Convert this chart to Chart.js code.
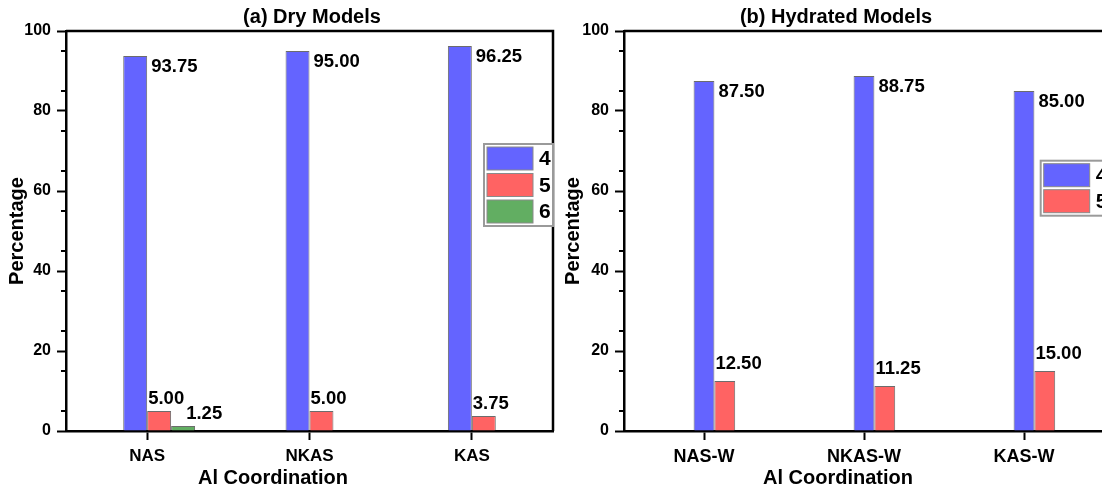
<!DOCTYPE html>
<html>
<head>
<meta charset="utf-8">
<script src="https://cdn.jsdelivr.net/npm/chart.js@4/dist/chart.umd.min.js"></script>
<style>
  html, body { margin: 0; padding: 0; background: #fff; overflow: hidden; width: 1102px; height: 493px; }
  canvas { position: absolute; top: 0; }
  #dry { left: 0; }
  #hyd { left: 560px; }
</style>
</head>
<body>
<canvas id="dry" width="560" height="493"></canvas>
<canvas id="hyd" width="560" height="493"></canvas>
<script>
// ---- data ----
const dryCategories = ['NAS', 'NKAS', 'KAS'];
const dryCoord4 = [93.75, 95.00, 96.25];
const dryCoord5 = [5.00, 5.00, 3.75];
const dryCoord6 = [1.25, 0, 0];

const hydCategories = ['NAS-W', 'NKAS-W', 'KAS-W'];
const hydCoord4 = [87.50, 88.75, 85.00];
const hydCoord5 = [12.50, 11.25, 15.00];

const seriesNames = ['4', '5', '6'];
const yTicks = [0, 20, 40, 60, 80, 100];

const dryTitle = '(a) Dry Models';
const hydTitle = '(b) Hydrated Models';
const xAxisTitle = 'Al Coordination';
const yAxisTitle = 'Percentage';

// ---- styles ----
const BLUE = '#6464FF', RED = '#FF6363', GREEN = '#62AE62';
const FONT = "'Liberation Sans', Arial, sans-serif";
const barBorder = 'rgba(45,45,45,0.7)';

// Draws the closed frame, minor y ticks, value labels, legend and titles.
const panelDecor = {
  id: 'panelDecor',
  afterDraw(chart, args, o) {
    const { ctx, chartArea: a } = chart;
    const y = chart.scales.y;
    ctx.save();
    ctx.strokeStyle = '#000';
    ctx.lineWidth = 2.5;
    ctx.beginPath();
    ctx.moveTo(a.left, a.top);
    ctx.lineTo(a.right, a.top);
    ctx.lineTo(a.right, a.bottom);
    ctx.stroke();

    // minor ticks every 5
    ctx.lineWidth = 2;
    for (let v = 5; v < 100; v += 10) {
      const py = y.getPixelForValue(v);
      ctx.beginPath();
      ctx.moveTo(a.left - 5, py);
      ctx.lineTo(a.left, py);
      ctx.stroke();
    }

    // value labels
    ctx.fillStyle = '#000';
    ctx.font = 'bold 18.5px ' + FONT;
    const lastRight = {};
    chart.data.datasets.forEach((ds, di) => {
      if (!ds.label) return;
      const meta = chart.getDatasetMeta(di);
      meta.data.forEach((bar, i) => {
        const v = ds.data[i];
        if (!v) return;
        const txt = v.toFixed(2);
        const w = ctx.measureText(txt).width;
        if (v >= 50) {
          ctx.textAlign = 'left';
          ctx.textBaseline = 'top';
          ctx.fillText(txt, bar.x + bar.width / 2 + 4, bar.y + 2);
        } else {
          let tx = bar.x - bar.width / 2 + 1;
          if (lastRight[i] !== undefined && tx < lastRight[i] + 2) tx = lastRight[i] + 2;
          ctx.textAlign = 'left';
          ctx.textBaseline = 'bottom';
          ctx.fillText(txt, tx, bar.y - o.labelGap);
          lastRight[i] = tx + w;
        }
      });
    });

    // legend
    const L = o.legend;
    const items = chart.data.datasets.filter(d => d.label);
    const boxH = L.pad * 2 + items.length * L.pitch - (L.pitch - L.sh);
    ctx.fillStyle = '#fff';
    ctx.fillRect(L.x, L.y, L.w, boxH);
    ctx.strokeStyle = '#9a9a9a';
    ctx.lineWidth = 2;
    ctx.strokeRect(L.x, L.y, L.w, boxH);
    items.forEach((d, k) => {
      const sy = L.y + L.pad + k * L.pitch;
      ctx.fillStyle = d.backgroundColor;
      ctx.fillRect(L.x + 3, sy, L.sw, L.sh);
      ctx.strokeStyle = '#8a8a8a';
      ctx.lineWidth = 1;
      ctx.strokeRect(L.x + 3, sy, L.sw, L.sh);
      ctx.fillStyle = '#000';
      ctx.font = 'bold 21px ' + FONT;
      ctx.textAlign = 'left';
      ctx.textBaseline = 'middle';
      ctx.fillText(d.label, L.x + 3 + L.sw + 6, sy + L.sh / 2 + 1);
    });

    // titles
    ctx.fillStyle = '#000';
    ctx.textAlign = 'center';
    ctx.textBaseline = 'middle';
    ctx.font = 'bold 20px ' + FONT;
    ctx.fillText(o.title.text, o.title.x, o.title.y);
    ctx.font = 'bold 20px ' + FONT;
    ctx.fillText(o.xTitle.text, o.xTitle.x, o.xTitle.y);
    ctx.restore();
  }
};

function makeOptions(axisLeft, padRight, yTitlePad, xTickSize, decor, catPct) {
  return {
    responsive: false,
    animation: false,
    layout: { padding: { top: 31, right: padRight, left: 0, bottom: 0 } },
    datasets: { bar: { categoryPercentage: catPct, barPercentage: 1, borderWidth: 1, borderColor: barBorder } },
    plugins: { legend: { display: false }, title: { display: false }, tooltip: { enabled: false }, panelDecor: decor },
    scales: {
      x: {
        type: 'category',
        offset: true,
        afterFit: s => { s.height = 62; },
        grid: { drawOnChartArea: false, offset: false, drawTicks: true, tickLength: 9, tickWidth: 2, tickColor: '#000' },
        border: { display: true, color: '#000', width: 2.5 },
        ticks: { color: '#000', padding: 6, font: { family: FONT, size: xTickSize, weight: 'bold' } }
      },
      y: {
        min: 0, max: 100,
        afterFit: s => { s.width = axisLeft; },
        afterBuildTicks: s => { s.ticks = yTicks.map(v => ({ value: v })); },
        grid: { drawOnChartArea: false, drawTicks: true, tickLength: 9, tickWidth: 2, tickColor: '#000' },
        border: { display: true, color: '#000', width: 2.5 },
        ticks: { color: '#000', padding: 6, font: { family: FONT, size: 16, weight: 'bold' } },
        title: { display: true, text: yAxisTitle, color: '#000', padding: { top: yTitlePad, bottom: 0 }, font: { family: FONT, size: 20, weight: 'bold' } }
      }
    }
  };
}

// (a) dry models: an empty leading slot keeps the groups offset as plotted
new Chart(document.getElementById('dry'), {
  type: 'bar',
  plugins: [panelDecor],
  data: {
    labels: dryCategories,
    datasets: [
      { label: '', data: dryCategories.map(() => null), backgroundColor: 'rgba(0,0,0,0)', borderWidth: 0 },
      { label: seriesNames[0], data: dryCoord4, backgroundColor: BLUE },
      { label: seriesNames[1], data: dryCoord5, backgroundColor: RED },
      { label: seriesNames[2], data: dryCoord6, backgroundColor: GREEN }
    ]
  },
  options: makeOptions(66, 7, 5, 17, {
    labelGap: 3,
    legend: { x: 484, y: 144, w: 69, pad: 3, pitch: 26.5, sw: 46, sh: 23 },
    title: { text: dryTitle, x: 312, y: 17 },
    xTitle: { text: xAxisTitle, x: 273, y: 478 }
  }, 0.59)
});

// (b) hydrated models
new Chart(document.getElementById('hyd'), {
  type: 'bar',
  plugins: [panelDecor],
  data: {
    labels: hydCategories,
    datasets: [
      { label: '', data: hydCategories.map(() => null), backgroundColor: 'rgba(0,0,0,0)', borderWidth: 0 },
      { label: seriesNames[0], data: hydCoord4, backgroundColor: BLUE },
      { label: seriesNames[1], data: hydCoord5, backgroundColor: RED }
    ]
  },
  options: makeOptions(64, 16, 1, 18, {
    labelGap: 8,
    legend: { x: 480.7, y: 160.7, w: 80, pad: 3, pitch: 26, sw: 46, sh: 23 },
    title: { text: hydTitle, x: 276, y: 17 },
    xTitle: { text: xAxisTitle, x: 278, y: 478 }
  }, 0.39)
});
</script>
</body>
</html>
